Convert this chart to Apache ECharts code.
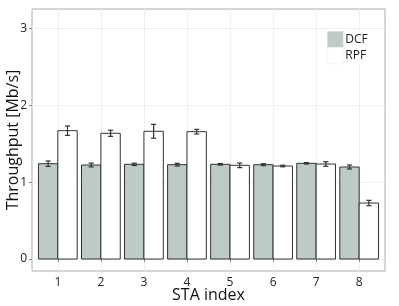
<!DOCTYPE html>
<html><head><meta charset="utf-8">
<script src="https://cdn.jsdelivr.net/npm/echarts@6/dist/echarts.min.js"></script>
<style>html,body{margin:0;padding:0;background:#fff}#c{width:399px;height:306px}</style>
</head><body><div id="c"></div>
<script>
const categories = [1, 2, 3, 4, 5, 6, 7, 8];
const dcf = [1.241, 1.224, 1.233, 1.228, 1.233, 1.228, 1.246, 1.198];
const dcfErr = [0.035, 0.025, 0.015, 0.017, 0.010, 0.013, 0.010, 0.026];
const rpf = [1.671, 1.637, 1.663, 1.658, 1.220, 1.211, 1.237, 0.729];
const rpfErr = [0.061, 0.040, 0.090, 0.030, 0.030, 0.010, 0.030, 0.035];
const yTicks = [0, 1, 2, 3];
const yGrid = [0, 0.5, 1, 1.5, 2, 2.5, 3];

const font = 'Open Sans';
const barW = 0.45;
function barData(vals, errs, side) {
  return categories.map((c, i) => [c, vals[i], vals[i] - errs[i], vals[i] + errs[i], side]);
}
function barRender(params, api) {
  const x = api.value(0), v = api.value(1), lo = api.value(2), hi = api.value(3), side = api.value(4);
  const x0 = side < 0 ? x - barW : x, x1 = side < 0 ? x : x + barW, xc = (x0 + x1) / 2;
  const p0 = api.coord([x0, v]), p1 = api.coord([x1, 0]);
  const pLo = api.coord([xc, lo]), pHi = api.coord([xc, hi]);
  const hw = api.size([0.06, 0])[0];
  const st = {stroke: '#333', lineWidth: 1.2};
  return {type: 'group', children: [
    {type: 'rect', shape: {x: p0[0], y: p0[1], width: p1[0] - p0[0], height: p1[1] - p0[1]},
     style: {fill: api.visual('color'), stroke: '#333', lineWidth: 1}},
    {type: 'line', shape: {x1: pLo[0], y1: pLo[1], x2: pHi[0], y2: pHi[1]}, style: st},
    {type: 'line', shape: {x1: pLo[0]-hw, y1: pLo[1], x2: pLo[0]+hw, y2: pLo[1]}, style: st},
    {type: 'line', shape: {x1: pHi[0]-hw, y1: pHi[1], x2: pHi[0]+hw, y2: pHi[1]}, style: st}
  ]};
}
const chart = echarts.init(document.getElementById('c'), null, {renderer: 'canvas'});
chart.setOption({
  animation: false,
  backgroundColor: '#fff',
  textStyle: {fontFamily: font},
  grid: {left: 32, right: 14, top: 9, bottom: 35, containLabel: false, outerBoundsMode: 'none',
         show: true, borderColor: '#a6aeae', borderWidth: 1, backgroundColor: 'transparent'},
  legend: {
    orient: 'vertical', left: 327, top: 31, itemGap: 0, itemWidth: 16, itemHeight: 16,
    icon: 'rect', backgroundColor: '#fff', padding: 0,
    itemStyle: {borderColor: '#e8ecec', borderWidth: 0.5},
    textStyle: {fontFamily: font, fontSize: 12, color: '#222', padding: [0,0,0,-3]},
    data: ['DCF', 'RPF']
  },
  xAxis: {
    type: 'value', min: 0.4, max: 8.6,
    name: 'STA index', nameLocation: 'middle', nameGap: 16, nameMoveOverlap: false,
    nameTextStyle: {fontFamily: font, fontSize: 16, color: '#111', verticalAlign: 'top'},
    axisLine: {show: false},
    axisTick: {show: true, length: 3, lineStyle: {color: '#888'}, customValues: categories},
    axisLabel: {customValues: categories, fontSize: 12, color: '#222', margin: 6, fontFamily: font},
    splitLine: {show: true, customValues: categories, lineStyle: {color: '#eef0f0', width: 1}}
  },
  yAxis: {
    type: 'value', min: -0.156, max: 3.255,
    name: 'Throughput [Mb/s]', nameLocation: 'middle', nameGap: 11, nameMoveOverlap: false,
    nameTextStyle: {fontFamily: font, fontSize: 16, color: '#111'},
    axisLine: {show: false},
    axisTick: {show: true, length: 3, lineStyle: {color: '#888'}, customValues: yTicks},
    axisLabel: {customValues: yTicks, fontSize: 12, color: '#222', margin: 5, fontFamily: font},
    splitLine: {show: true, customValues: yGrid, lineStyle: {color: '#eef0f0', width: 1}}
  },
  series: [
    {name: 'DCF', type: 'custom', renderItem: barRender, data: barData(dcf, dcfErr, -1),
     itemStyle: {color: '#bdcac8'}, encode: {x: 0, y: [1, 2, 3]}},
    {name: 'RPF', type: 'custom', renderItem: barRender, data: barData(rpf, rpfErr, 1),
     itemStyle: {color: '#ffffff'}, encode: {x: 0, y: [1, 2, 3]}}
  ]
});
</script></body></html>
